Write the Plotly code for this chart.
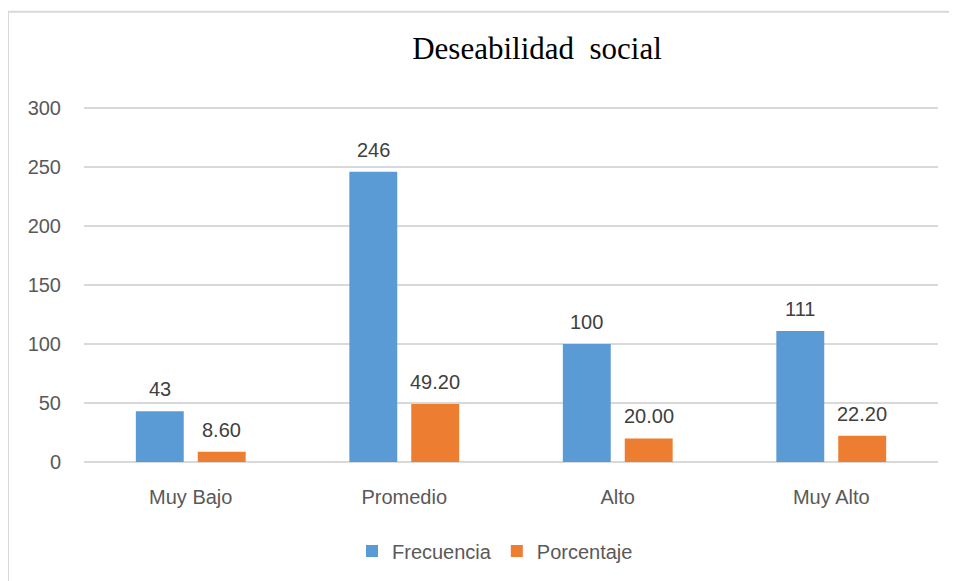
import plotly.graph_objects as go

categories = ["Muy Bajo", "Promedio", "Alto", "Muy Alto"]
frecuencia = [43, 246, 100, 111]
porcentaje = [8.60, 49.20, 20.00, 22.20]
y_ticks = [0, 50, 100, 150, 200, 250, 300]

BLUE = "#5B9BD5"
ORANGE = "#ED7D31"
GRID = "#D9D9D9"
TICK = "#595959"
LABEL = "#404040"
FONT = "Liberation Sans, Open Sans, sans-serif"

fig = go.Figure()
fig.add_trace(go.Bar(
    x=categories, y=frecuencia, name="Frecuencia",
    marker=dict(color=BLUE, line=dict(width=0)),
))
fig.add_trace(go.Bar(
    x=categories, y=porcentaje, name="Porcentaje",
    marker=dict(color=ORANGE, line=dict(width=0)),
))

# page body has an 8px margin
W, H = 949, 573
L, R, T, B = 76, 19, 99, 118
pw, ph = W - L - R, H - T - B
BARGAP, GROUPGAP = 0.42, 0.226
slot = pw / len(categories) * (1 - BARGAP) / 2

annotations = []
for cat, v in zip(categories, frecuencia):
    annotations.append(dict(
        x=cat, y=v, xref="x", yref="y", text=str(v), showarrow=False,
        xanchor="center", yanchor="bottom", xshift=-slot / 2, yshift=9,
        font=dict(size=20, color=LABEL, family=FONT),
    ))
for cat, v in zip(categories, porcentaje):
    annotations.append(dict(
        x=cat, y=v, xref="x", yref="y", text=f"{v:.2f}", showarrow=False,
        xanchor="center", yanchor="bottom", xshift=slot / 2, yshift=9,
        font=dict(size=20, color=LABEL, family=FONT),
    ))

fig.update_layout(
    width=W, height=H,
    margin=dict(l=L, r=R, t=T, b=B, pad=0),
    paper_bgcolor="white", plot_bgcolor="white",
    barmode="group", bargap=BARGAP, bargroupgap=GROUPGAP,
    title=dict(
        text="Deseabilidad  social",
        x=529 / W, xanchor="center",
        y=1 - 40 / H, yanchor="middle",
        font=dict(family="Liberation Serif, Times New Roman, serif", size=31, color="#000000"),
    ),
    font=dict(family=FONT, color=TICK),
    showlegend=True,
    legend=dict(
        orientation="h", x=(487 - L) / pw, xanchor="center",
        y=-(543 - (H - B)) / ph, yanchor="middle",
        font=dict(size=20, color=TICK, family=FONT),
        itemwidth=30, traceorder="normal",
    ),
    xaxis=dict(
        showgrid=False, showline=False, zeroline=False,
        tickfont=dict(size=20, color=TICK, family=FONT),
        ticks="", ticklabelstandoff=21,
    ),
    yaxis=dict(
        range=[0, 301], tickvals=y_ticks,
        showgrid=True, gridcolor=GRID, gridwidth=1.5,
        zeroline=True, zerolinecolor=GRID, zerolinewidth=1.5,
        showline=False, ticks="",
        tickfont=dict(size=20, color=TICK, family=FONT),
        ticklabelstandoff=22,
    ),
    annotations=annotations,
    shapes=[dict(
        type="rect", xref="paper", yref="paper",
        x0=(0 - L) / pw, x1=(W + 20 - L) / pw,
        y0=-(H + 20 - (H - B)) / ph, y1=((H - B) - 3.5) / ph,
        line=dict(color=GRID, width=2), fillcolor="rgba(0,0,0,0)",
        layer="below",
    )],
)

fig.write_html("out.html")
